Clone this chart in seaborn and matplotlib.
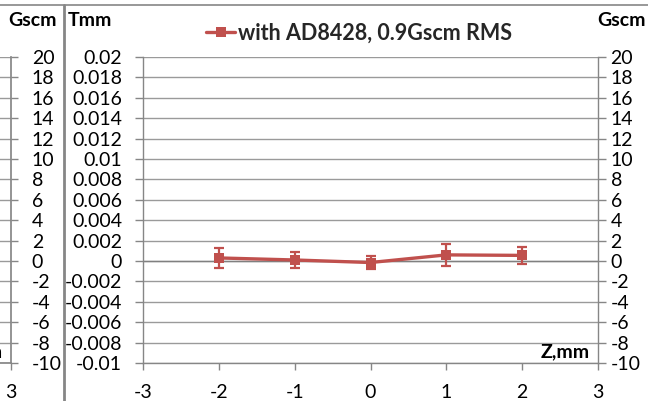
import matplotlib
matplotlib.use("Agg")
import matplotlib.pyplot as plt
import seaborn as sns
import pandas as pd
from matplotlib.lines import Line2D

# Measured field integral vs. probe position
z_mm = [-2, -1, 0, 1, 2]
t_mm = [0.0003, 0.0001, -0.00015, 0.0006, 0.00055]
t_err = [0.0010, 0.00075, 0.0006, 0.0011, 0.00085]
series_label = "with AD8428, 0.9Gscm RMS"

x_ticks = [-3, -2, -1, 0, 1, 2, 3]
t_ticks = [0.02, 0.018, 0.016, 0.014, 0.012, 0.01, 0.008, 0.006, 0.004, 0.002,
           0, -0.002, -0.004, -0.006, -0.008, -0.01]
g_ticks = [20, 18, 16, 14, 12, 10, 8, 6, 4, 2, 0, -2, -4, -6, -8, -10]

sns.set_theme(style="white")
plt.rcParams["font.family"] = ["Lato", "DejaVu Sans"]

RED = "#C0504D"
GRID = "#9A9A9A"
AXC = "#868686"
FS = 14
FS_LEG = 15.5

W, H = 648, 401
fig = plt.figure(figsize=(W / 100, H / 100), dpi=100)


def fx(px):
    return px / W


def fy(py):
    return 1 - py / H


TOP, BOT = 57, 363
h_ax = (BOT - TOP) / H

# ---- main chart ----
ax = fig.add_axes([fx(143), fy(BOT), fx(598 - 143), h_ax])
df = pd.DataFrame({"z": z_mm, "t": t_mm})
sns.lineplot(data=df, x="z", y="t", ax=ax, color=RED, lw=2.4, marker="s",
             markersize=6.5, markeredgewidth=0, legend=False, zorder=5)
ax.errorbar(z_mm, t_mm, yerr=t_err, fmt="none", ecolor=RED, elinewidth=1.6,
            capsize=3.5, capthick=1.6, zorder=4)

ax.set_xlim(-3, 3)
ax.set_ylim(-0.01, 0.02)
ax.set_xticks(x_ticks)
ax.set_xticklabels([str(v) for v in x_ticks])
ax.set_yticks(t_ticks)
ax.set_yticklabels([f"{v:g}" for v in t_ticks])
ax.set_xlabel("")
ax.set_ylabel("")
ax.grid(axis="y", color=GRID, lw=1.0)
ax.grid(axis="x", visible=False)
ax.axhline(0, color="#808080", lw=1.0, zorder=1)
for side in ["top", "right"]:
    ax.spines[side].set_visible(False)
for side in ["left", "bottom"]:
    ax.spines[side].set_color(AXC)
    ax.spines[side].set_linewidth(1.0)
ax.tick_params(axis="y", left=True, direction="out", length=6, width=1,
               color=AXC, pad=9, labelsize=FS, labelcolor="black")
ax.tick_params(axis="x", bottom=True, direction="out", length=5, width=1,
               color=AXC, pad=10, labelsize=FS, labelcolor="black")

# secondary scale in Gscm
ax2 = ax.twinx()
ax2.set_ylim(-10, 20)
ax2.set_yticks(g_ticks)
ax2.set_yticklabels([str(v) for v in g_ticks])
ax2.grid(False)
for side in ["top", "left", "bottom"]:
    ax2.spines[side].set_visible(False)
ax2.spines["right"].set_color(AXC)
ax2.spines["right"].set_linewidth(1.0)
ax2.tick_params(axis="y", right=True, direction="out", length=6, width=1,
                color=AXC, pad=3, labelsize=FS, labelcolor="black")

# ---- neighbouring panel, cut off at the left edge ----
axl = fig.add_axes([fx(11 - 455), fy(BOT), fx(455), h_ax])
axl.set_xlim(-3, 3)
axl.set_ylim(-10, 20)
axl.set_xticks([3])
axl.set_xticklabels(["3"])
axl.set_yticks(g_ticks)
axl.set_yticklabels([str(v) for v in g_ticks])
axl.yaxis.tick_right()
axl.grid(axis="y", color=GRID, lw=1.0)
axl.grid(axis="x", visible=False)
for side in ["top", "left"]:
    axl.spines[side].set_visible(False)
for side in ["right", "bottom"]:
    axl.spines[side].set_color(AXC)
axl.tick_params(axis="y", right=True, left=False, direction="out", length=5,
                width=1, color=AXC, pad=10, labelsize=FS, labelcolor="black")
axl.tick_params(axis="x", bottom=True, direction="out", length=5, width=1,
                color=AXC, pad=10, labelsize=FS, labelcolor="black")

# frame lines between the panels
fig.add_artist(Line2D([0, 1], [fy(5), fy(5)], transform=fig.transFigure,
                      color=AXC, lw=1.2))
fig.add_artist(Line2D([fx(64), fx(64)], [0, fy(5)], transform=fig.transFigure,
                      color=AXC, lw=2.0))

# axis titles
bold = dict(weight="bold", size=FS, color="black", va="center")
fig.text(fx(57), fy(21), "Gscm", ha="right", **bold)
fig.text(fx(68), fy(21), "Tmm", ha="left", **bold)
fig.text(fx(646), fy(21), "Gscm", ha="right", **bold)
fig.text(fx(590), fy(352), "Z,mm", ha="right", **bold)
fig.text(fx(3), fy(352), "Z,mm", ha="right", **bold)

# legend
handle = Line2D([], [], color=RED, lw=2.4, marker="s", markersize=6.5,
                markeredgewidth=0)
fig.legend(handles=[handle], labels=[series_label], loc="center",
           bbox_to_anchor=(fx(359), fy(33)), frameon=False,
           handlelength=1.35, handletextpad=0.1, borderpad=0,
           prop={"weight": "bold", "size": FS_LEG})

fig.savefig("out.png", dpi=100)
